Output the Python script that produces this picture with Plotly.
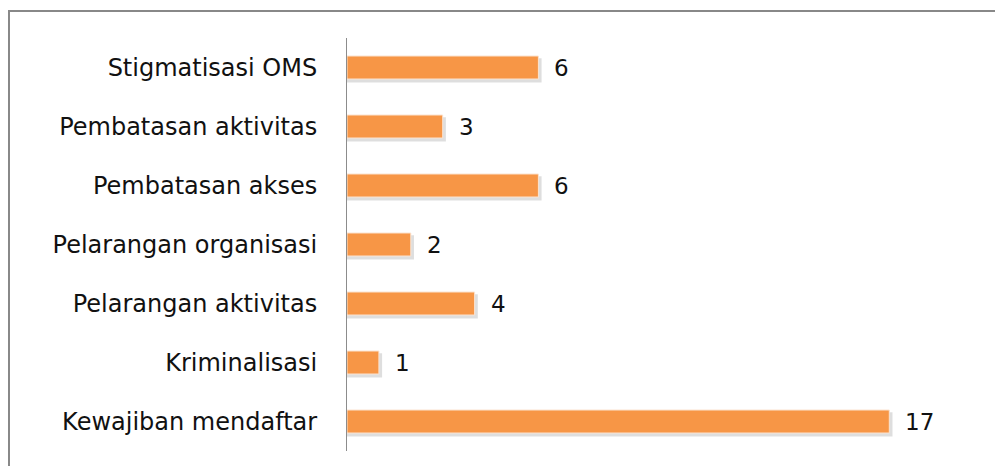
import plotly.graph_objects as go

categories = ["Kewajiban mendaftar", "Kriminalisasi", "Pelarangan aktivitas",
              "Pelarangan organisasi", "Pembatasan akses", "Pembatasan aktivitas",
              "Stigmatisasi OMS"]
values = [17, 1, 4, 2, 6, 3, 6]

BAR_COLOR = "#F79646"
FONT = "DejaVu Sans"
BW = 0.39

fig = go.Figure()
# soft shadow behind bars
fig.add_trace(go.Bar(
    y=categories, x=[v + 0.1 for v in values], orientation="h",
    marker=dict(color="rgba(0,0,0,0.13)", line=dict(width=0)),
    width=BW + 0.02, offset=-(BW / 2) - 0.06, hoverinfo="skip", showlegend=False))
fig.add_trace(go.Bar(
    y=categories, x=values, orientation="h",
    marker=dict(color=BAR_COLOR, line=dict(color="#FBE3D0", width=1)),
    width=BW, showlegend=False))

for c, v in zip(categories, values):
    fig.add_annotation(x=v, y=c, text=str(v), showarrow=False, xanchor="left",
                       xshift=14, font=dict(family=FONT, size=23, color="#111111"))

fig.update_layout(
    width=995, height=458,
    margin=dict(l=339, r=18, t=30, b=15),
    paper_bgcolor="white", plot_bgcolor="white",
    barmode="overlay", bargap=0.6,
    xaxis=dict(range=[0, 20], visible=False, showgrid=False, zeroline=False, fixedrange=True),
    yaxis=dict(categoryorder="array", categoryarray=categories,
               showline=True, linecolor="#8C8C8C", linewidth=1,
               ticks="", ticklabelstandoff=24, showgrid=False,
               tickfont=dict(family=FONT, size=24, color="#111111")),
    shapes=[dict(type="rect", xref="paper", yref="paper",
                 x0=-0.5298, x1=1.2, y0=-0.2, y1=1.0654,
                 line=dict(color="#888888", width=2), layer="below")],
)

fig.write_html("out.html")
